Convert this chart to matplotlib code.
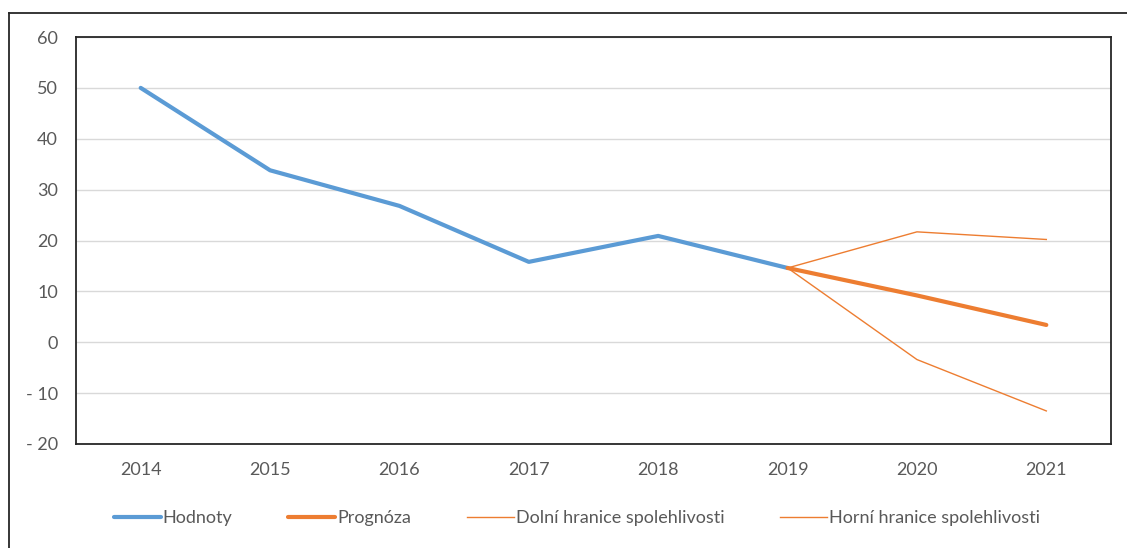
import matplotlib.pyplot as plt
from matplotlib.lines import Line2D

plt.rcParams['font.family'] = ['Lato', 'DejaVu Sans']

# Data
years = ['2014', '2015', '2016', '2017', '2018', '2019', '2020', '2021']
hodnoty = [50, 33.8, 26.8, 15.8, 20.9, 14.6]
prognoza = [14.6, 9.2, 3.4]
dolni = [14.6, 21.7, 20.2]
horni = [14.6, -3.4, -13.5]
yticks = [-20, -10, 0, 10, 20, 30, 40, 50, 60]
ytick_labels = ['- 20', '- 10', '0', '10', '20', '30', '40', '50', '60']

blue = '#5B9BD5'
orange = '#ED7D31'
grey_text = '#595959'

fig = plt.figure(figsize=(11.27, 5.48), dpi=100)
ax = fig.add_axes([76 / 1127, 1 - 444 / 548, (1111 - 76) / 1127, (444 - 37) / 548])

x_hist = list(range(len(hodnoty)))
x_fc = list(range(len(hodnoty) - 1, len(years)))

ax.plot(x_hist, hodnoty, color=blue, lw=3, solid_capstyle='round', label='Hodnoty', zorder=3)
ax.plot(x_fc, prognoza, color=orange, lw=3, solid_capstyle='round', label='Prognóza', zorder=4)
ax.plot(x_fc, dolni, color=orange, lw=1, label='Dolní hranice spolehlivosti', zorder=3)
ax.plot(x_fc, horni, color=orange, lw=1, label='Horní hranice spolehlivosti', zorder=3)

ax.set_xlim(-0.5, len(years) - 0.5)
ax.set_ylim(-20, 60)
ax.set_xticks(range(len(years)))
ax.set_xticklabels(years)
ax.set_yticks(yticks)
ax.set_yticklabels(ytick_labels)
ax.tick_params(length=0, colors=grey_text, labelsize=13)
ax.tick_params(axis='x', pad=13)
ax.tick_params(axis='y', pad=13)
ax.grid(axis='y', color='#D9D9D9', lw=1)
ax.set_axisbelow(True)
for s in ax.spines.values():
    s.set_color('#262626')
    s.set_linewidth(1.3)

handles = [
    Line2D([], [], color=blue, lw=3, solid_capstyle='round'),
    Line2D([], [], color=orange, lw=3, solid_capstyle='round'),
    Line2D([], [], color=orange, lw=1),
    Line2D([], [], color=orange, lw=1),
]
labels = ['Hodnoty', 'Prognóza', 'Dolní hranice spolehlivosti', 'Horní hranice spolehlivosti']
leg = fig.legend(handles, labels, ncol=4, loc='center', bbox_to_anchor=(577 / 1127, 1 - 518 / 548),
                 frameon=False, handlelength=2.6, handletextpad=0.1, columnspacing=3.1,
                 fontsize=13)
for t in leg.get_texts():
    t.set_color(grey_text)

# outer chart border (top and left only visible)
fig.add_artist(Line2D([9 / 1127, 1], [1 - 13 / 548, 1 - 13 / 548], color='#262626', lw=1.3))
fig.add_artist(Line2D([9 / 1127, 9 / 1127], [0, 1 - 13 / 548], color='#262626', lw=1.3))

fig.savefig('out.png', dpi=100)
